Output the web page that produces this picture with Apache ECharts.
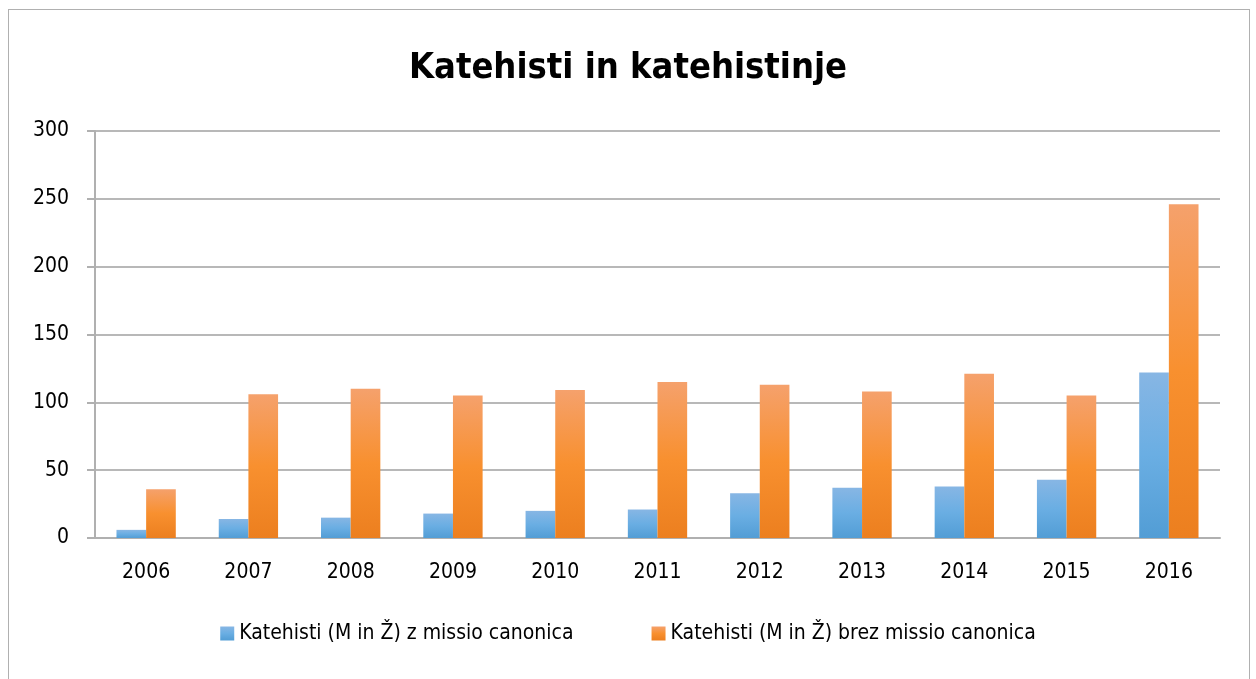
<!DOCTYPE html>
<html>
<head>
<meta charset="utf-8">
<script src="https://cdn.jsdelivr.net/npm/echarts@6/dist/echarts.min.js"></script>
<style>
  html, body { margin: 0; padding: 0; background: #fff; }
  #frame { position: absolute; left: 8px; top: 9px; width: 1240px; height: 700px; border: 1.5px solid #b0b0b0; }
  #chart { position: absolute; left: 0; top: 0; width: 1256px; height: 679px; }
</style>
</head>
<body>
<div id="frame"></div>
<div id="chart"></div>
<script>
const years = ['2006', '2007', '2008', '2009', '2010', '2011', '2012', '2013', '2014', '2015', '2016']
const withMissio = [6, 14, 15, 18, 20, 21, 33, 37, 38, 43, 122]
const withoutMissio = [36, 106, 110, 105, 109, 115, 113, 108, 121, 105, 246]
const seriesNames = ['Katehisti (M in Ž) z missio canonica', 'Katehisti (M in Ž) brez missio canonica']

const font = '"DejaVu Sans Condensed", "Open Sans", sans-serif'

function grad(top, mid, bottom) {
  return new echarts.graphic.LinearGradient(0, 0, 0, 1, [
    { offset: 0, color: top },
    { offset: 0.5, color: mid },
    { offset: 1, color: bottom },
  ])
}

const chart = echarts.init(document.getElementById('chart'), null, { renderer: 'canvas' })

chart.setOption({
  backgroundColor: 'transparent',
  animation: false,
  title: {
    text: 'Katehisti in katehistinje',
    left: 'center',
    top: 46,
    textStyle: { fontFamily: font, fontSize: 36, fontWeight: 'bold', color: '#000' },
  },
  legend: {
    bottom: 30,
    left: 'center',
    itemWidth: 14,
    itemHeight: 14,
    itemGap: 78,
    icon: 'rect',
    textStyle: { fontFamily: font, fontSize: 21, color: '#000' },
    data: seriesNames,
  },
  grid: { left: 95, right: 36, top: 131, bottom: 141 },
  xAxis: {
    type: 'category',
    data: years,
    axisLine: { lineStyle: { color: '#b0b0b0', width: 2 } },
    axisTick: { length: 8, lineStyle: { color: '#b0b0b0', width: 2 } },
    axisLabel: { fontFamily: font, fontSize: 21, color: '#000', margin: 24 },
  },
  yAxis: {
    type: 'value',
    min: 0,
    max: 300,
    interval: 50,
    axisLine: { show: true, lineStyle: { color: '#b0b0b0', width: 2 } },
    axisTick: { show: true, length: 8, lineStyle: { color: '#b0b0b0', width: 2 } },
    splitLine: { lineStyle: { color: '#b8b8b8', width: 2 } },
    axisLabel: { fontFamily: font, fontSize: 21, color: '#000', margin: 26 },
  },
  series: [
    {
      name: seriesNames[0],
      type: 'bar',
      data: withMissio,
      barWidth: '29%',
      barGap: '0%',
      itemStyle: { color: grad('#87b6e4', '#6aaee3', '#529dd5') },
    },
    {
      name: seriesNames[1],
      type: 'bar',
      data: withoutMissio,
      barWidth: '29%',
      itemStyle: { color: grad('#f5a16c', '#f8902f', '#ec7f1f') },
    },
  ],
})
</script>
</body>
</html>
